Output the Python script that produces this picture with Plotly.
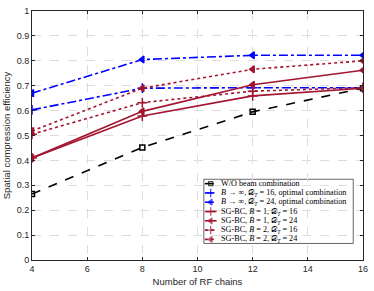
import plotly.graph_objects as go

rf_chains = [4, 8, 12, 16]
wo_comb = [0.265, 0.452, 0.595, 0.690]
inf_d16 = [0.603, 0.690, 0.692, 0.692]
inf_d24 = [0.670, 0.805, 0.822, 0.822]
sg_b1_d16 = [0.410, 0.578, 0.659, 0.690]
sg_b1_d24 = [0.410, 0.597, 0.704, 0.762]
sg_b2_d16 = [0.505, 0.632, 0.678, 0.692]
sg_b2_d24 = [0.518, 0.690, 0.766, 0.800]

names = [
    "W/O beam combination",
    "<i>B</i> → ∞, 𝒟<sub><i>T</i></sub> = 16, optimal combination",
    "<i>B</i> → ∞, 𝒟<sub><i>T</i></sub> = 24, optimal combination",
    "SG-BC, <i>B</i> = 1, 𝒟<sub><i>T</i></sub> = 16",
    "SG-BC, <i>B</i> = 1, 𝒟<sub><i>T</i></sub> = 24",
    "SG-BC, <i>B</i> = 2, 𝒟<sub><i>T</i></sub> = 16",
    "SG-BC, <i>B</i> = 2, 𝒟<sub><i>T</i></sub> = 24",
]
series = [wo_comb, inf_d16, inf_d24, sg_b1_d16, sg_b1_d24, sg_b2_d16, sg_b2_d24]
red = "#A2142F"
colors = ["black", "#0000FF", "#0000FF", red, red, red, red]
dashes = ["dash", "dashdot", "dashdot", "solid", "solid", "dot", "dot"]
symbols = ["square-open", "cross-thin", "triangle-left", "cross-thin", "triangle-left", "cross-thin", "triangle-left"]
sizes = [5, 7, 6, 7, 6, 7, 6]

fig = go.Figure()
for n, s, c, d, sym, sz in zip(names, series, colors, dashes, symbols, sizes):
    fig.add_trace(go.Scatter(
        x=rf_chains, y=s, name=n, mode="lines+markers", showlegend=False,
        line=dict(color=c, dash=d, width=1.6),
        marker=dict(symbol=sym, size=sz, color=c, line=dict(color=c, width=1.5)),
    ))

# plot area in page pixels: x 29..368, y 7..263
PX0, PX1, PY0, PY1 = 29, 368, 7, 263
def px(v):
    return (v - PX0) / (PX1 - PX0)
def py(v):
    return (PY1 - v) / (PY1 - PY0)

L_X0, L_X1, L_Y0, L_Y1 = 205, 358, 180, 246
row_y0, row_dy = 184.5, 9.55
annotations = []
for i, (n, c, d, sym, sz) in enumerate(zip(names, colors, dashes, symbols, sizes)):
    yy = row_y0 + i * row_dy
    fig.add_trace(go.Scatter(
        x=[206, 212, 218], y=[yy, yy, yy], xaxis="x2", yaxis="y2", mode="lines+markers",
        showlegend=False, hoverinfo="skip",
        line=dict(color=c, dash=d, width=1.6),
        marker=dict(symbol=sym, size=[0, sz - 1, 0], color=c, line=dict(color=c, width=1.3)),
    ))
    annotations.append(dict(
        x=px(221), y=py(yy), xref="paper", yref="paper", xanchor="left", yanchor="middle",
        text=n, showarrow=False,
        font=dict(family="Liberation Serif, DejaVu Serif", size=8.2, color="black"),
    ))

axis_common = dict(
    showline=True, linecolor="#262626", linewidth=1, mirror="ticks",
    ticks="inside", ticklen=3, tickcolor="#262626",
    showgrid=True, gridcolor="#DDDDDD", griddash="dash", gridwidth=1,
    zeroline=False, tickfont=dict(family="Liberation Sans, Arial", size=9, color="#262626"),
)
fig.update_xaxes(range=[4, 16], dtick=2, title=dict(text="Number of RF chains", standoff=5,
                 font=dict(family="Liberation Sans, Arial", size=9.5, color="#262626")), **axis_common)
fig.update_yaxes(range=[0, 1], dtick=0.1, title=dict(text="Spatial compression efficiency", standoff=4,
                 font=dict(family="Liberation Sans, Arial", size=9.5, color="#262626")), **axis_common)

fig.update_layout(
    width=374, height=291,
    margin=dict(l=29, r=6, t=7, b=28),
    plot_bgcolor="white", paper_bgcolor="white",
    xaxis2=dict(overlaying="x", anchor="y2", range=[PX0, PX1], visible=False, fixedrange=True),
    yaxis2=dict(overlaying="y", anchor="x2", range=[PY1, PY0], visible=False, fixedrange=True),
    shapes=[dict(type="rect", xref="paper", yref="paper", x0=px(L_X0), x1=px(L_X1),
                 y0=py(L_Y1), y1=py(L_Y0),
                 line=dict(color="#262626", width=0.7), fillcolor="white", layer="between")],
    annotations=annotations,
    showlegend=False,
)
fig.write_html("out.html", config={"displayModeBar": False},
               post_script="document.body.style.margin='0';")
